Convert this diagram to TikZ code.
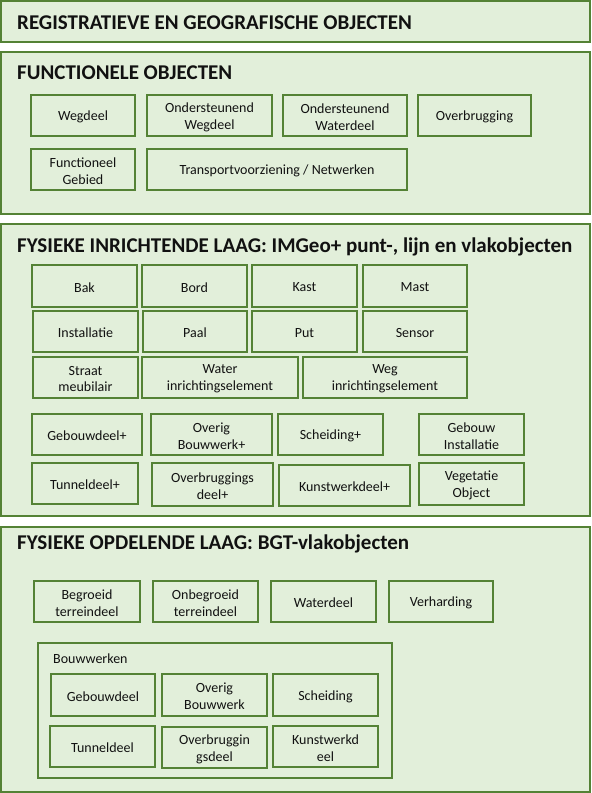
\documentclass[tikz,border=0pt]{standalone}
\usepackage{fontspec}
\setmainfont{Carlito}
\definecolor{gborder}{HTML}{548235}
\definecolor{gfill}{HTML}{E2EFDA}
\definecolor{txt}{HTML}{111111}
\newcommand\rbx[7]{\node[#1, minimum width={(#5-#3)*1pt}, minimum height={(#6-#4)*1pt}] (#2) at ({(#3+#5)/2},{(#4+#6)/2}) {};
  \node[btext] (#2-t) at (#2.center) {#7};}
\begin{document}
\begin{tikzpicture}[x=1pt,y=-1pt,
  obox/.style={draw=gborder, fill=gfill, line width=2pt, inner sep=0pt},
  ibox/.style={draw=gborder, fill=gfill, line width=2pt, inner sep=0pt},
  btext/.style={inner sep=0pt, align=center, text=txt, yshift=-1.5pt, font=\fontsize{14}{16.8}\selectfont},
  ttl/.style={anchor=base west, inner sep=0pt, text=txt, font=\bfseries\fontsize{21}{24}\selectfont},
  lbl/.style={anchor=base west, inner sep=0pt, text=txt, font=\fontsize{14}{16.5}\selectfont}]
\useasboundingbox (0,0) rectangle (592,793);
% outer layers
\rbx{obox}{reg}{1}{1}{590}{42}{}
\rbx{obox}{fun}{1}{52}{590}{214}{}
\rbx{obox}{inr}{1}{224}{590}{516}{}
\rbx{obox}{opd}{1}{527}{590}{792}{}
\node[ttl] (tReg) at (17,29) {REGISTRATIEVE EN GEOGRAFISCHE OBJECTEN};
\node[ttl] (tFun) at (17,79) {FUNCTIONELE OBJECTEN};
\node[ttl] (tInr) at (17,252) {FYSIEKE INRICHTENDE LAAG: IMGeo+ punt-, lijn en vlakobjecten};
\node[ttl] (tOpd) at (17,549) {FYSIEKE OPDELENDE LAAG: BGT-vlakobjecten};
% functionele objecten
\rbx{ibox}{wegdeel}{31}{95}{135}{136}{Wegdeel}
\rbx{ibox}{ondweg}{147}{95}{272}{136}{Ondersteunend\\Wegdeel}
\rbx{ibox}{ondwat}{283}{95}{407}{136}{Ondersteunend\\Waterdeel}
\rbx{ibox}{overbr}{418}{95}{531}{136}{Overbrugging}
\rbx{ibox}{funcgeb}{31}{149}{135}{190}{Functioneel\\Gebied}
\rbx{ibox}{transp}{147}{149}{407}{190}{Transportvoorziening / Netwerken}
% inrichtende laag
\rbx{ibox}{bak}{32}{265}{137}{307}{Bak}
\rbx{ibox}{bord}{142}{265}{247}{307}{Bord}
\rbx{ibox}{kast}{252}{265}{357}{307}{Kast}
\rbx{ibox}{mast}{363}{265}{467}{307}{Mast}
\rbx{ibox}{install}{33}{311}{138}{352}{Installatie}
\rbx{ibox}{paal}{143}{311}{247}{352}{Paal}
\rbx{ibox}{put}{252}{311}{357}{352}{Put}
\rbx{ibox}{sensor}{363}{311}{467}{352}{Sensor}
\rbx{ibox}{straat}{33}{357}{138}{398}{Straat\\meubilair}
\rbx{ibox}{waterinr}{142}{357}{298}{398}{Water\\inrichtingselement}
\rbx{ibox}{weginr}{303}{357}{467}{398}{Weg\\inrichtingselement}
\rbx{ibox}{gebouwp}{32}{414}{142}{455}{Gebouwdeel+}
\rbx{ibox}{overigp}{151}{414}{272}{455}{Overig\\Bouwwerk+}
\rbx{ibox}{scheidp}{278}{414}{383}{455}{Scheiding+}
\rbx{ibox}{gebinst}{419}{414}{524}{455}{Gebouw\\Installatie}
\rbx{ibox}{tunnelp}{32}{463}{138}{504}{Tunneldeel+}
\rbx{ibox}{overbrp}{152}{463}{273}{506}{Overbruggings\\deel+}
\rbx{ibox}{kunstp}{279}{465}{410}{506}{Kunstwerkdeel+}
\rbx{ibox}{veget}{419}{463}{524}{505}{Vegetatie\\Object}
% opdelende laag
\rbx{ibox}{begroeid}{34}{581}{140}{622}{Begroeid\\terreindeel}
\rbx{ibox}{onbegr}{153}{581}{258}{622}{Onbegroeid\\terreindeel}
\rbx{ibox}{waterdeel}{271}{581}{376}{622}{Waterdeel}
\rbx{ibox}{verhard}{389}{581}{493}{622}{Verharding}
\rbx{obox}{bouww}{38}{643}{392}{778}{}
\node[lbl] (tBouww) at (53,663) {Bouwwerken};
\rbx{ibox}{gebouw}{51}{674}{155}{716}{Gebouwdeel}
\rbx{ibox}{overig}{162}{674}{267}{716}{Overig\\Bouwwerk}
\rbx{ibox}{scheid}{273}{674}{378}{716}{Scheiding}
\rbx{ibox}{tunnel}{50}{726}{155}{767}{Tunneldeel}
\rbx{ibox}{overbrd}{162}{727}{267}{768}{Overbruggin\\gsdeel}
\rbx{ibox}{kunst}{273}{726}{378}{767}{Kunstwerkd\\eel}
\end{tikzpicture}
\end{document}
